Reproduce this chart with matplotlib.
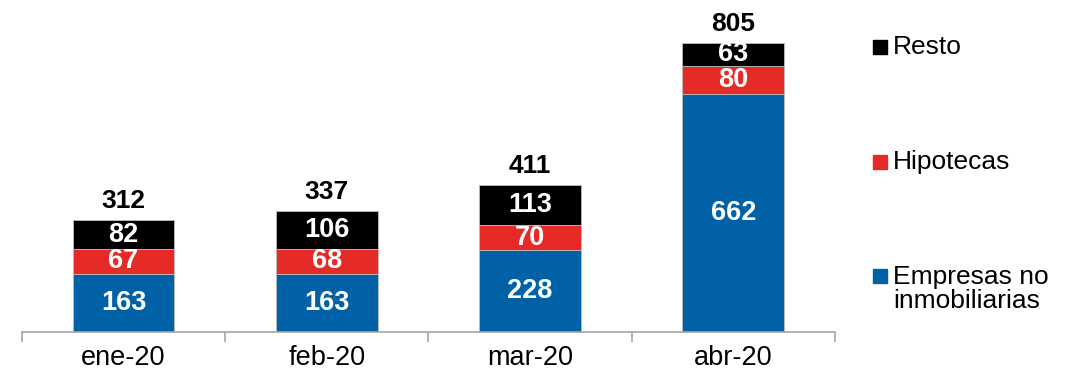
import numpy as np
import matplotlib.pyplot as plt
from matplotlib.patches import Rectangle

plt.rcParams['font.family'] = ['Liberation Sans', 'DejaVu Sans']

meses = ["ene-20", "feb-20", "mar-20", "abr-20"]
empresas = [163, 163, 228, 662]
hipotecas = [67, 68, 70, 80]
resto = [82, 106, 113, 63]
totales = [312, 337, 411, 805]

c_emp = "#0061a7"
c_hip = "#e52a27"
c_res = "#000000"

fig = plt.figure(figsize=(10.71, 3.76), dpi=100)
ax = fig.add_axes([0.0205, 0.117, 0.759, 0.859])

x = np.arange(len(meses))
w = 0.5
emp = np.array(empresas)
hip = np.array(hipotecas)
res = np.array(resto)

b1 = ax.bar(x, emp, w, color=c_emp, edgecolor="#bdbdbd", linewidth=0.6)
b2 = ax.bar(x, hip, w, bottom=emp, color=c_hip, edgecolor="#bdbdbd", linewidth=0.6)
b3 = ax.bar(x, res, w, bottom=emp + hip, color=c_res, edgecolor="#bdbdbd", linewidth=0.6)

for vals, bottoms in [(emp, 0 * emp), (hip, emp), (res, emp + hip)]:
    for xi, v, b in zip(x, vals, bottoms):
        ax.text(xi, b + v / 2, str(v), ha="center", va="center",
                color="white", fontsize=19.5, fontweight="bold")

for xi, t in zip(x, totales):
    ax.annotate(str(t), (xi, t), xytext=(0, 5), textcoords="offset points",
                ha="center", va="bottom", fontsize=19, fontweight="bold")

ax.set_xlim(-0.5, 3.5)
ax.set_ylim(0, 900)
for s in ["top", "right", "left"]:
    ax.spines[s].set_visible(False)
ax.spines["bottom"].set_color("#a6a6a6")
ax.spines["bottom"].set_linewidth(1.2)
ax.set_yticks([])

ax.set_xticks(x)
ax.set_xticklabels(meses, fontsize=19.5)
ax.tick_params(axis="x", which="major", length=0, pad=9)
ax.set_xticks(np.arange(-0.5, 4, 1), minor=True)
ax.tick_params(axis="x", which="minor", length=7, width=1.2, color="#a6a6a6", direction="out")

# leyenda a la derecha
leyenda = [(c_res, "Resto", 47, 47), (c_hip, "Hipotecas", 162, 162),
           (c_emp, "Empresas no\ninmobiliarias", 276, 289)]
for col, txt, ymark, ytxt in leyenda:
    yf = 1 - ymark / 376
    fig.patches.append(Rectangle((873 / 1071, yf - 7 / 376), 14 / 1071, 14 / 376,
                                 transform=fig.transFigure, color=col))
    fig.text(893 / 1071, 1 - ytxt / 376, txt, fontsize=19, va="center", ha="left",
             linespacing=1.05)

fig.savefig("out.png", dpi=100)
